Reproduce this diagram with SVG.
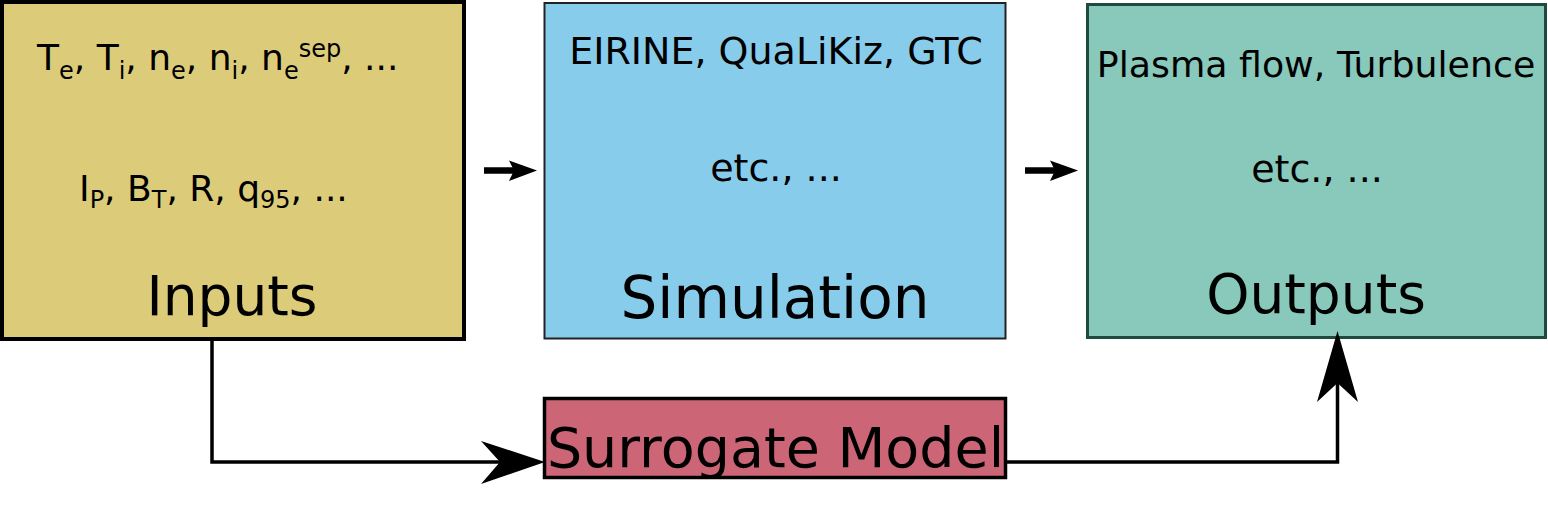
<svg xmlns="http://www.w3.org/2000/svg" width="1548" height="508" viewBox="0 0 1548 508">
<style>
text{font-family:"DejaVu Sans","Liberation Sans",sans-serif;fill:#000}
.m{font-size:36px}
.m2{font-size:38px}
.b{font-size:55px}
.c{text-anchor:middle}
.sub{font-size:24px}
.ln{fill:none;stroke:#000;stroke-width:3.5}
.hd{fill:#000;stroke:none}
</style>
<rect width="1548" height="508" fill="#fff"/>
<g id="inputs">
<rect x="2" y="2" width="462" height="337" fill="#dccc7a" stroke="#000" stroke-width="4"/>
<text class="m" x="37" y="70">T<tspan class="sub" dy="9">e</tspan><tspan dy="-9">, T</tspan><tspan class="sub" dy="9">i</tspan><tspan dy="-9">, n</tspan><tspan class="sub" dy="9">e</tspan><tspan dy="-9">, n</tspan><tspan class="sub" dy="9">i</tspan><tspan dy="-9">, n</tspan><tspan class="sub" dy="9">e</tspan><tspan class="sub" dy="-22">sep</tspan><tspan dy="13">, ...</tspan></text>
<text class="m" x="79" y="201">I<tspan class="sub" dy="7">P</tspan><tspan dy="-7">, B</tspan><tspan class="sub" dy="7">T</tspan><tspan dy="-7">, R, q</tspan><tspan class="sub" dy="7">95</tspan><tspan dy="-7">, ...</tspan></text>
<text class="b c" x="232" y="315">Inputs</text>
</g>
<g id="simulation">
<rect x="544.5" y="3" width="461" height="335.5" fill="#88ccec" stroke="#222" stroke-width="2"/>
<text class="m2 c" x="776" y="64">EIRINE, QuaLiKiz, GTC</text>
<text class="m2 c" x="776" y="181">etc., ...</text>
<text class="c" style="font-size:58px" x="775" y="318">Simulation</text>
</g>
<g id="outputs">
<rect x="1087.5" y="4.5" width="458" height="333" fill="#88c9bc" stroke="#1f4a40" stroke-width="3"/>
<text class="c" style="font-size:36.3px" x="1316" y="77">Plasma flow, Turbulence</text>
<text class="m2 c" x="1317" y="182">etc., ...</text>
<text class="b c" x="1316" y="313">Outputs</text>
</g>
<g id="surrogate">
<rect x="544.5" y="398.5" width="461" height="79" fill="#cc6677" stroke="#000" stroke-width="3.5"/>
<text class="c" style="font-size:55.5px" x="775.5" y="467">Surrogate Model</text>
</g>
<g id="connectors">
<path d="M484,170.5 H514" stroke="#000" stroke-width="6.5" fill="none"/>
<path class="hd" d="M537,170.5 L509,160.5 L514,170.5 L509,181 Z"/>
<path d="M1025,170.5 H1055" stroke="#000" stroke-width="6.5" fill="none"/>
<path class="hd" d="M1078,170.5 L1050,160.5 L1055,170.5 L1050,181 Z"/>
<path class="ln" d="M212,339 V462 H500"/>
<path class="hd" d="M545,462 L481,441 L500,462 L481,484 Z"/>
<path class="ln" d="M1006,462 H1337.5 V383"/>
<path class="hd" d="M1337.5,331 L1317,402 L1337.5,383 L1358,402 Z"/>
</g>
</svg>
